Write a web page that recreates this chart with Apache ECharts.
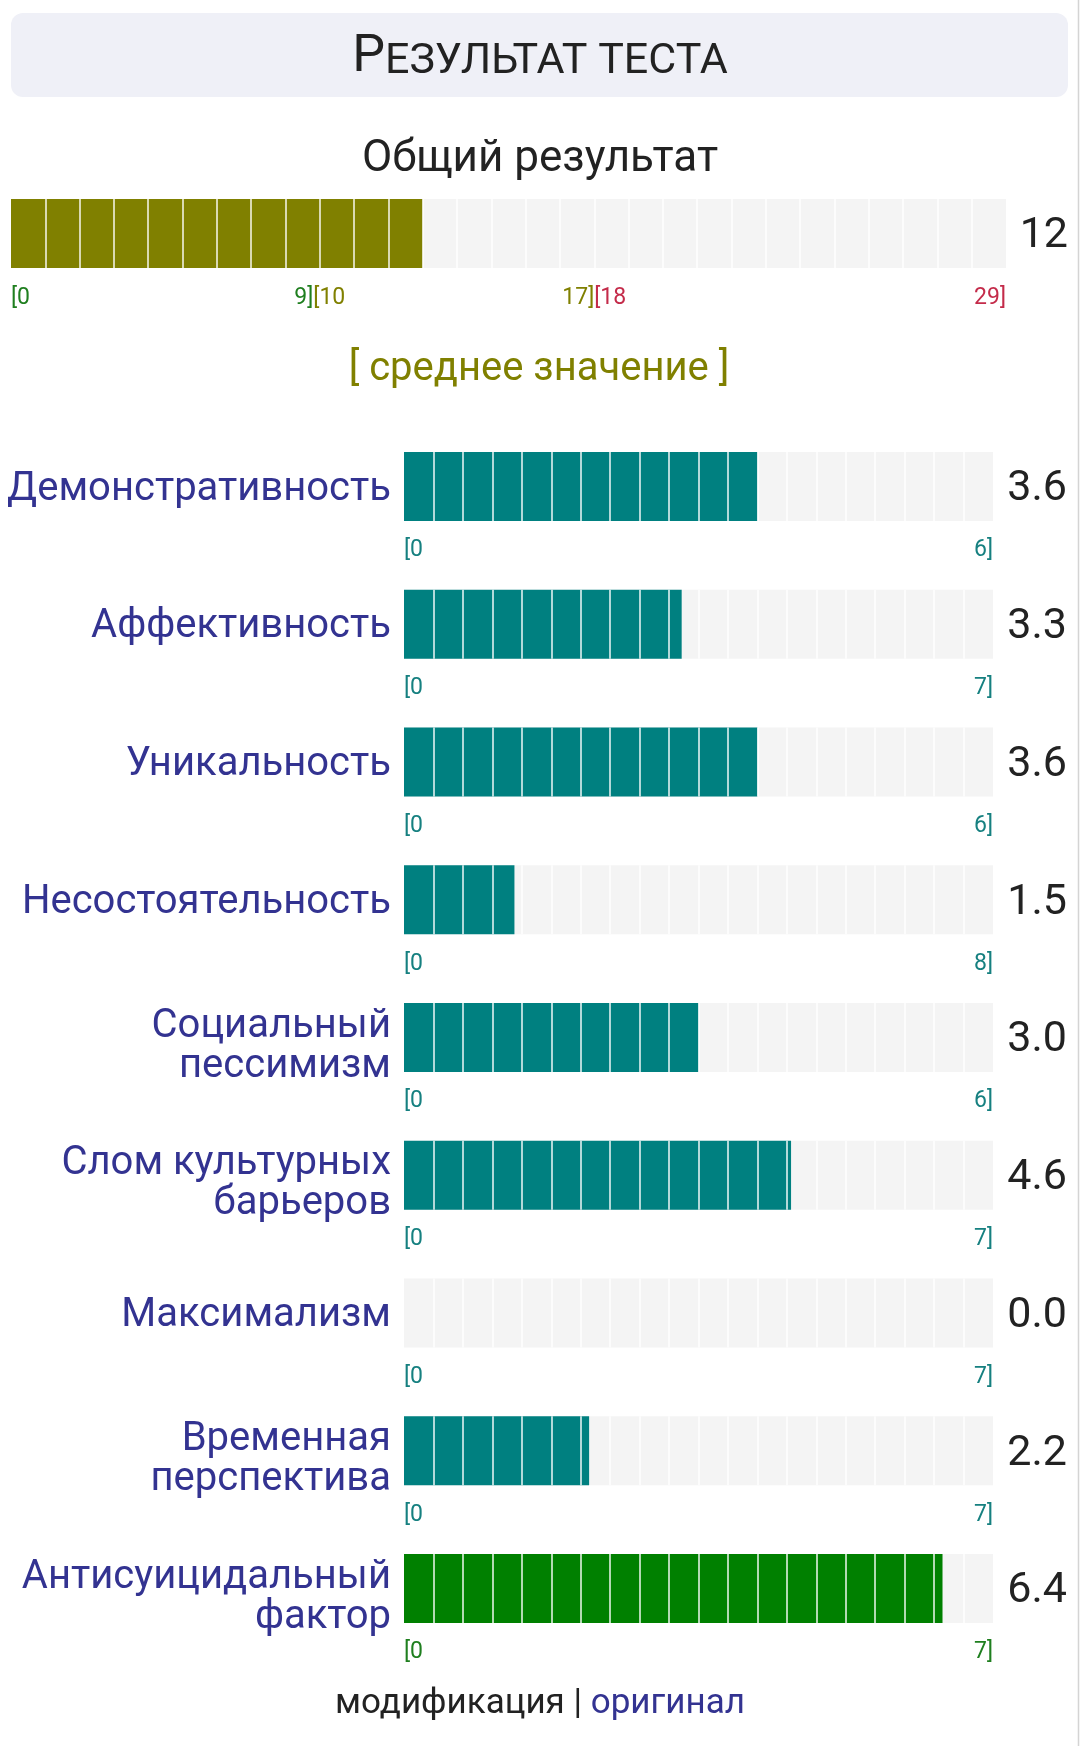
<!DOCTYPE html>
<html>
<head>
<meta charset="utf-8">
<script src="https://cdn.jsdelivr.net/npm/echarts@6/dist/echarts.min.js"></script>
<style>
html,body{margin:0;padding:0;background:#fff;}
#chart{width:1080px;height:1746px;}
</style>
</head>
<body>
<div id="chart"></div>
<script>
// ---- data ----
const pageTitle = 'Результат теста';
const overallTitle = 'Общий результат';
const overallValue = 12;
const overallMax = 29;
const overallBands = [[0, 9], [10, 17], [18, 29]];
const overallVerdict = '[ среднее значение ]';
const scaleNames = ['Демонстративность', 'Аффективность', 'Уникальность', 'Несостоятельность',
  'Социальный\nпессимизм', 'Слом культурных\nбарьеров', 'Максимализм', 'Временная\nперспектива',
  'Антисуицидальный\nфактор'];
const scaleValues = [3.6, 3.3, 3.6, 1.5, 3.0, 4.6, 0.0, 2.2, 6.4];
const scaleMax = [6, 7, 6, 8, 6, 7, 7, 7, 7];
const footerParts = ['модификация | ', 'оригинал'];

// ---- style ----
const FONT = 'Roboto';
const bandColors = ['#1f7f1f', '#808000', '#c42b4a'];
const scaleBarColors = ['#008080', '#008080', '#008080', '#008080', '#008080', '#008080', '#008080', '#008080', '#008000'];
const scaleTickColors = ['#168080', '#168080', '#168080', '#168080', '#168080', '#168080', '#168080', '#168080', '#1f7f1f'];
const labelColor = '#333391';
const SEG = 20;
const TICK_FS = 23;

const chart = echarts.init(document.getElementById('chart'), null, {renderer: 'canvas'});

const grids = [], xAxes = [], yAxes = [], series = [];

function addRow(idx, cfg) {
  grids.push({left: cfg.left, top: cfg.top, width: cfg.width, height: cfg.height,
    containLabel: false, outerBoundsMode: 'none'});
  xAxes.push({
    type: 'value', gridIndex: idx, min: 0, max: cfg.max, interval: cfg.interval, z: 5,
    axisLine: {show: false}, axisTick: {show: false},
    splitLine: {show: true, showMinLine: false, showMaxLine: false,
      lineStyle: {color: 'rgba(255,255,255,0.7)', width: 2}},
    axisLabel: {show: true, margin: cfg.tickMargin, fontFamily: FONT, fontSize: TICK_FS,
      color: cfg.tickColor, alignMinLabel: 'left', alignMaxLabel: 'right',
      formatter: cfg.tickFormatter, rich: cfg.rich, hideOverlap: false}
  });
  yAxes.push({
    type: 'category', gridIndex: idx, data: [cfg.name], position: 'left',
    axisLine: {show: false}, axisTick: {show: false}, splitLine: {show: false},
    axisLabel: {show: cfg.name !== '', margin: 13, align: 'right', fontFamily: FONT, fontSize: 40,
      lineHeight: 40, color: labelColor,
      formatter: function (v) { return '{s| }\n' + v; },
      rich: {s: {fontSize: 1, lineHeight: cfg.nameShift * 2}}}
  });
  yAxes.push({
    type: 'category', gridIndex: idx, data: [cfg.valueText], position: 'right',
    axisLine: {show: false}, axisTick: {show: false}, splitLine: {show: false},
    axisLabel: {show: true, margin: cfg.valueMargin, align: 'right', fontFamily: FONT, fontSize: 43,
      lineHeight: 44, color: '#222',
      formatter: function (v) { return '{s| }\n' + v; },
      rich: {s: {fontSize: 1, lineHeight: 6}}}
  });
  series.push({
    type: 'bar', xAxisIndex: idx, yAxisIndex: yAxes.length - 2, data: [cfg.value],
    barWidth: '100%', silent: true, animation: false,
    showBackground: true, backgroundStyle: {color: '#f4f4f4'},
    itemStyle: {color: cfg.color}
  });
}

const overallRich = {};
bandColors.forEach((c, i) => {
  overallRich['b' + i] = {color: c, fontFamily: FONT, fontSize: TICK_FS};
});

addRow(0, {
  left: 11, top: 199, width: 995, height: 69,
  max: overallMax, interval: 1, name: '', nameShift: 0, value: overallValue, valueText: String(overallValue),
  valueMargin: 62, color: '#808000', tickMargin: 19, rich: overallRich, tickColor: bandColors[0],
  tickFormatter: function (v) {
    if (v === overallBands[0][0]) return '{b0|[' + overallBands[0][0] + '}';
    for (let i = 0; i < overallBands.length - 1; i++) {
      if (v === overallBands[i][1]) {
        return '{b' + i + '|' + overallBands[i][1] + ']}{b' + (i + 1) + '|[' + overallBands[i + 1][0] + '}';
      }
    }
    const last = overallBands.length - 1;
    if (v === overallBands[last][1]) return '{b' + last + '|' + overallBands[last][1] + ']}';
    return '';
  }
});

scaleNames.forEach((name, i) => {
  const mx = scaleMax[i];
  const twoLines = name.indexOf('\n') >= 0;
  addRow(i + 1, {
    left: 404, top: 452 + i * 137.75, width: 589, height: 69,
    max: mx, interval: mx / SEG, name: name, nameShift: twoLines ? 9 : 3, value: scaleValues[i],
    valueText: scaleValues[i].toFixed(1), valueMargin: 74, color: scaleBarColors[i],
    tickMargin: 18, tickColor: scaleTickColors[i],
    tickFormatter: function (v) {
      if (Math.abs(v) < 1e-9) return '[0';
      if (Math.abs(v - mx) < 1e-6) return mx + ']';
      return '';
    }
  });
});

const option = {
  backgroundColor: '#ffffff',
  animation: false,
  grid: grids, xAxis: xAxes, yAxis: yAxes, series: series,
  graphic: [
    {type: 'rect', shape: {x: 11, y: 13, width: 1057, height: 84, r: 12}, style: {fill: '#eff0f7'}, silent: true},
    {type: 'text', x: 540, y: 56, silent: true, style: {
      text: '{a|' + pageTitle.charAt(0).toUpperCase() + '}{b|' + pageTitle.slice(1).toUpperCase() + '}',
      align: 'center', verticalAlign: 'middle',
      rich: {
        a: {fontFamily: FONT, fontSize: 52, fill: '#222', verticalAlign: 'bottom', lineHeight: 55},
        b: {fontFamily: FONT, fontSize: 43, fill: '#222', verticalAlign: 'bottom', lineHeight: 55}
      }
    }},
    {type: 'text', x: 540, y: 160, silent: true, style: {
      text: overallTitle, align: 'center', verticalAlign: 'middle',
      fontFamily: FONT, fontSize: 44, fill: '#222'
    }},
    {type: 'text', x: 539, y: 370, silent: true, style: {
      text: overallVerdict, align: 'center', verticalAlign: 'middle',
      fontFamily: FONT, fontSize: 40, fill: '#808000'
    }},
    {type: 'text', x: 540, y: 1704, silent: true, style: {
      text: '{d|' + footerParts[0] + '}{o|' + footerParts[1] + '}',
      align: 'center', verticalAlign: 'middle',
      rich: {
        d: {fontFamily: FONT, fontSize: 35, fill: '#222'},
        o: {fontFamily: FONT, fontSize: 35, fill: labelColor}
      }
    }},
    {type: 'line', shape: {x1: 1078.5, y1: 0, x2: 1078.5, y2: 1746}, style: {stroke: '#d4d4d4', lineWidth: 1.5}, silent: true}
  ]
};
chart.setOption(option);
</script>
</body>
</html>
